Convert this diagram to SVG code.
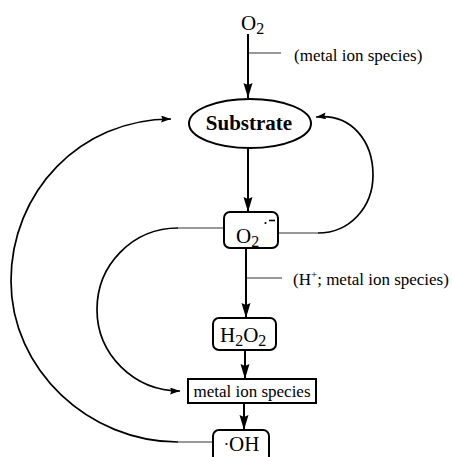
<svg xmlns="http://www.w3.org/2000/svg" width="452" height="457" viewBox="0 0 452 457">
<style>
  text { font-family: "Liberation Serif", "Times New Roman", serif; fill: #000; }
  .chem { font-size: 21px; }
  .lbl { font-size: 17px; }
  .sub { font-size: 16px; }
  .box { fill: #fff; stroke: #000; stroke-width: 2; }
  .main { fill: none; stroke: #000; stroke-width: 2; }
  .curve { fill: none; stroke: #000; stroke-width: 1.7; }
  .tick { fill: none; stroke: #333; stroke-width: 1; }
</style>
<defs>
  <marker id="big" markerUnits="userSpaceOnUse" markerWidth="16" markerHeight="10" refX="15" refY="4.5" orient="auto">
    <path d="M0,0 L15,4.5 L0,9 L2,4.5 z" fill="#000"/>
  </marker>
  <marker id="small" markerUnits="userSpaceOnUse" markerWidth="11" markerHeight="8" refX="10" refY="3.5" orient="auto">
    <path d="M0,0 L10,3.5 L0,7 L1.5,3.5 z" fill="#000"/>
  </marker>
</defs>

<g id="connectors">
  <line class="main" x1="248" y1="34" x2="248" y2="98" marker-end="url(#big)"/>
  <line class="tick" x1="249" y1="53" x2="281" y2="53"/>
  <line class="main" x1="248" y1="148" x2="248" y2="212" marker-end="url(#big)"/>
  <line class="main" x1="246" y1="248" x2="246" y2="318" marker-end="url(#big)"/>
  <line class="tick" x1="247" y1="278" x2="282" y2="278"/>
  <line class="main" x1="245" y1="350" x2="245" y2="379" marker-end="url(#big)"/>
  <line class="main" x1="244" y1="403" x2="244" y2="430" marker-end="url(#big)"/>
  <line class="tick" x1="278" y1="233" x2="318" y2="233"/>
  <path class="curve" d="M 318 233 C 350 233, 373 207, 373 175 C 373 142, 352 113, 316 117" marker-end="url(#small)"/>
  <line class="tick" x1="178" y1="228" x2="224" y2="228"/>
  <path class="curve" d="M 178 228 C 133 228, 97 264.5, 97 309.5 C 97 354.5, 134 391, 180 391" marker-end="url(#small)"/>
  <line class="tick" x1="178" y1="442" x2="213" y2="442"/>
  <path class="curve" d="M 178 442 C 89 442, 11 370, 11 281 C 11 192, 80 119, 171 119" marker-end="url(#small)"/>
</g>

<g id="node-o2">
  <text class="chem" x="241" y="30">O<tspan class="sub" dy="4">2</tspan></text>
</g>
<text class="lbl" x="294" y="61">(metal ion species)</text>

<g id="node-substrate">
  <ellipse class="box" cx="250" cy="123.5" rx="61" ry="24.5"/>
  <text x="249" y="130" text-anchor="middle" font-size="21" font-weight="bold">Substrate</text>
</g>

<g id="node-superoxide">
  <rect class="box" x="224" y="212" width="54" height="36" rx="6"/>
  <text class="chem" x="236" y="243">O<tspan class="sub" dy="4">2</tspan></text>
  <circle cx="265.5" cy="223" r="1.1" fill="#000"/>
  <line x1="269" y1="220.5" x2="275" y2="220.5" stroke="#000" stroke-width="1.6"/>
</g>

<text class="lbl" x="293" y="285">(H<tspan font-size="11" dy="-7">+</tspan><tspan dy="7">; metal ion species)</tspan></text>

<g id="node-h2o2">
  <rect class="box" x="213" y="318" width="63" height="32" rx="6"/>
  <text class="chem" x="220" y="342">H<tspan class="sub" dy="4">2</tspan><tspan dy="-4">O</tspan><tspan class="sub" dy="4">2</tspan></text>
</g>

<g id="node-metal">
  <rect class="box" x="188" y="379" width="128" height="24"/>
  <text class="lbl" x="252" y="397" text-anchor="middle">metal ion species</text>
</g>

<g id="node-oh">
  <rect class="box" x="213" y="430" width="56" height="40" rx="6"/>
  <circle cx="226.5" cy="444" r="1.1" fill="#000"/>
  <text class="chem" x="229" y="451">OH</text>
</g>
</svg>
